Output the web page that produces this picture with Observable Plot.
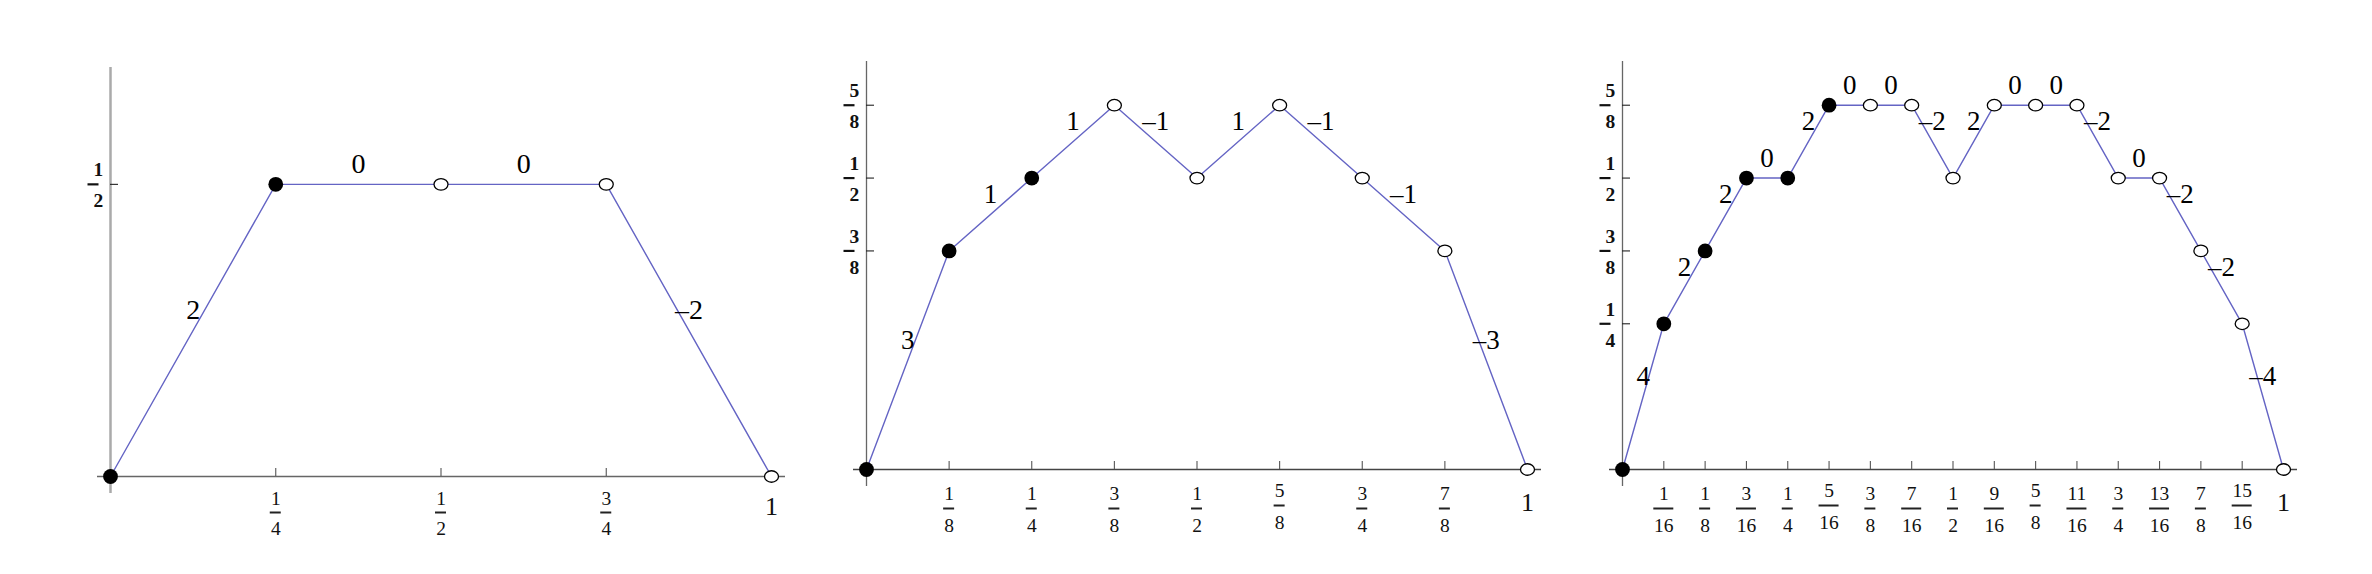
<!DOCTYPE html>
<html>
<head>
<meta charset="utf-8">
<script src="https://cdn.jsdelivr.net/npm/d3@7"></script>
<script src="https://cdn.jsdelivr.net/npm/@observablehq/plot@0.6"></script>
<style>
  html, body { margin: 0; padding: 0; background: #fff; }
  #wrap { position: relative; width: 2372px; height: 574px; overflow: hidden; }
  #wrap > div { position: absolute; top: 0; }
</style>
</head>
<body>
<div id="wrap"></div>
<script>
// ---------- data ----------
// Panel 1
const xs1 = [0, 1/4, 1/2, 3/4, 1];
const ys1 = [0, 1/2, 1/2, 1/2, 0];
const slopes1 = [2, 0, 0, -2];
const filled1 = [true, true, false, false, false];
const xTicks1 = ["1/4", "1/2", "3/4"];
const yTicks1 = ["1/2"];

// Panel 2
const xs2 = [0, 1/8, 1/4, 3/8, 1/2, 5/8, 3/4, 7/8, 1];
const ys2 = [0, 3/8, 1/2, 5/8, 1/2, 5/8, 1/2, 3/8, 0];
const slopes2 = [3, 1, 1, -1, 1, -1, -1, -3];
const filled2 = [true, true, true, false, false, false, false, false, false];
const xTicks2 = ["1/8", "1/4", "3/8", "1/2", "5/8", "3/4", "7/8"];
const yTicks2 = ["3/8", "1/2", "5/8"];

// Panel 3
const xs3 = [0, 1/16, 1/8, 3/16, 1/4, 5/16, 3/8, 7/16, 1/2, 9/16, 5/8, 11/16, 3/4, 13/16, 7/8, 15/16, 1];
const ys3 = [0, 1/4, 3/8, 1/2, 1/2, 5/8, 5/8, 5/8, 1/2, 5/8, 5/8, 5/8, 1/2, 1/2, 3/8, 1/4, 0];
const slopes3 = [4, 2, 2, 0, 2, 0, 0, -2, 2, 0, 0, -2, 0, -2, -2, -4];
const filled3 = [true, true, true, true, true, true, false, false, false, false, false, false, false, false, false, false, false];
const xTicks3 = ["1/16", "1/8", "3/16", "1/4", "5/16", "3/8", "7/16", "1/2", "9/16", "5/8", "11/16", "3/4", "13/16", "7/8", "15/16"];
const yTicks3 = ["1/4", "3/8", "1/2", "5/8"];

const endLabel = ["1"];

// ---------- styling ----------
const LINE = "#6464c4";
const SERIF = "'Liberation Serif', 'Times New Roman', serif";

const ellipse = {
  draw(ctx, size) {
    const r = Math.sqrt(size / Math.PI), rx = r, ry = r * 0.82, k = 0.5523;
    ctx.moveTo(rx, 0);
    ctx.bezierCurveTo(rx, ry * k, rx * k, ry, 0, ry);
    ctx.bezierCurveTo(-rx * k, ry, -rx, ry * k, -rx, 0);
    ctx.bezierCurveTo(-rx, -ry * k, -rx * k, -ry, 0, -ry);
    ctx.bezierCurveTo(rx * k, -ry, rx, -ry * k, rx, 0);
    ctx.closePath();
  }
};

function frac(s) {
  const [n, d] = s.split("/");
  return {label: s, n, d, v: +n / +d, wide: Math.max(n.length, d.length) > 1, raised: n.includes("5")};
}
const fmt = (s) => (s < 0 ? "\u2013" + (-s) : String(s));

function panel(cfg) {
  const {xs, ys, slopes, filled, xTicks, yTicks, width, ml, mr, mt, mb, off, yAxisStroke, yAxisWidth, axisStroke, slopeSize} = cfg;
  const height = 574;
  const fw = width - ml - mr, fh = height - mt - mb;
  const pts = xs.map((x, i) => ({x, y: ys[i], filled: filled[i]}));
  const segs = slopes.map((s, i) => ({x: (xs[i] + xs[i + 1]) / 2, y: (ys[i] + ys[i + 1]) / 2, t: fmt(s)}));
  const xt = xTicks.map(frac);
  const yt = yTicks.map(frac);

  const xLabelMarks = [];
  for (const raised of [false, true]) {
    const sub = xt.filter(d => (cfg.noRaise ? false : d.raised) === raised);
    const r = raised ? -3 : 0;
    xLabelMarks.push(
      Plot.text(sub, {x: "v", y: 0, text: "n", dy: off.num + r, lineAnchor: "bottom", fontSize: 19.5, fontFamily: SERIF, fill: "#111"}),
      Plot.text(sub, {x: "v", y: 0, text: "d", dy: off.den + r, lineAnchor: "bottom", fontSize: 19.5, fontFamily: SERIF, fill: "#111"}),
      Plot.ruleY(sub.filter(d => !d.wide), {x1: "v", x2: "v", y: 0, dy: off.bar + r, insetLeft: -5.5, insetRight: -5.5, stroke: "#222", strokeWidth: 2}),
      Plot.ruleY(sub.filter(d => d.wide), {x1: "v", x2: "v", y: 0, dy: off.bar + r, insetLeft: -10, insetRight: -10, stroke: "#222", strokeWidth: 2})
    );
  }

  return Plot.plot({
    width, height,
    marginLeft: ml, marginRight: mr, marginTop: mt, marginBottom: mb,
    x: {domain: [0, 1], axis: null},
    y: {domain: [0, 0.7], axis: null},
    style: {background: "transparent", overflow: "visible"},
    marks: [
      // axes
      Plot.ruleY([0], {insetLeft: -13, insetRight: -14, stroke: axisStroke, strokeWidth: 1.3}),
      Plot.ruleX([0], {insetBottom: -17, stroke: yAxisStroke, strokeWidth: yAxisWidth}),
      Plot.tickX(xt, {x: "v", insetTop: fh - 8, stroke: "#555", strokeWidth: 1.1}),
      Plot.tickY(yt, {y: "v", insetRight: fw - 8, stroke: "#222", strokeWidth: 1.1}),
      // x tick labels
      ...xLabelMarks,
      Plot.text(endLabel, {x: d => +d, y: 0, text: d => d, dy: off.end, lineAnchor: "bottom", fontSize: 26, fontFamily: SERIF, fill: "#111"}),
      // y tick labels
      Plot.text(yt, {y: "v", frameAnchor: "left", dx: -17, dy: -8, text: "n", lineAnchor: "bottom", fontSize: 19.5, fontWeight: "bold", fontFamily: SERIF, fill: "#111"}),
      Plot.text(yt, {y: "v", frameAnchor: "left", dx: -17, dy: 23, text: "d", lineAnchor: "bottom", fontSize: 19.5, fontWeight: "bold", fontFamily: SERIF, fill: "#111"}),
      Plot.ruleY(yt, {y: "v", x1: 0, x2: 0, dx: -17, insetLeft: -5.5, insetRight: -5.5, stroke: "#111", strokeWidth: 2.2}),
      // the function
      Plot.line(pts, {x: "x", y: "y", stroke: LINE, strokeWidth: 1.4}),
      Plot.dot(pts.filter(d => d.filled), {x: "x", y: "y", r: 7.4, fill: "#000", stroke: "none"}),
      Plot.dot(pts.filter(d => !d.filled), {x: "x", y: "y", r: 7, symbol: ellipse, fill: "#fff", stroke: "#000", strokeWidth: 1.3}),
      // slope labels
      Plot.text(segs, {x: "x", y: "y", text: "t", dy: -20, fontSize: slopeSize, fontFamily: SERIF, fill: "#000"})
    ]
  });
}

const panels = [
  {left: 0, xs: xs1, ys: ys1, slopes: slopes1, filled: filled1, xTicks: xTicks1, yTicks: yTicks1,
   width: 800, ml: 110, mr: 29, mt: 67, mb: 98, noRaise: true, slopeSize: 28,
   off: {num: 28, bar: 36, den: 58, end: 38}, yAxisStroke: "#aaa", yAxisWidth: 2.5, axisStroke: "#666"},
  {left: 800, xs: xs2, ys: ys2, slopes: slopes2, filled: filled2, xTicks: xTicks2, yTicks: yTicks2,
   width: 790, ml: 66, mr: 63, mt: 61, mb: 105, slopeSize: 27,
   off: {num: 30, bar: 39, den: 62, end: 41}, yAxisStroke: "#666", yAxisWidth: 1.3, axisStroke: "#444"},
  {left: 1590, xs: xs3, ys: ys3, slopes: slopes3, filled: filled3, xTicks: xTicks3, yTicks: yTicks3,
   width: 782, ml: 32, mr: 89, mt: 61, mb: 105, slopeSize: 27,
   off: {num: 30, bar: 39, den: 62, end: 41}, yAxisStroke: "#666", yAxisWidth: 1.3, axisStroke: "#444"}
];

const wrap = document.getElementById("wrap");
for (const p of panels) {
  const holder = document.createElement("div");
  holder.style.left = p.left + "px";
  holder.appendChild(panel(p));
  wrap.appendChild(holder);
}
</script>
</body>
</html>
